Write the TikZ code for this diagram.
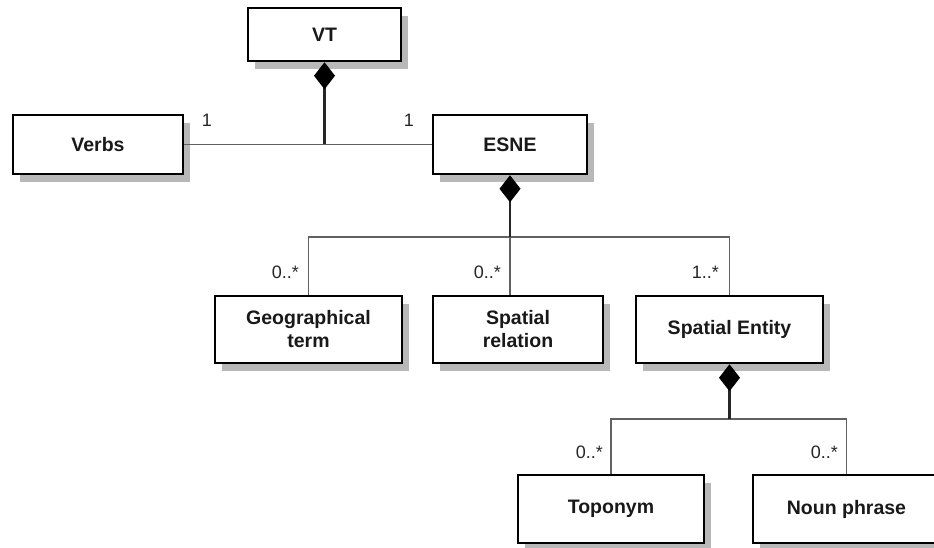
\documentclass[tikz,border=0pt]{standalone}
\usepackage{fontspec}
\setmainfont{Liberation Sans}
\usetikzlibrary{arrows.meta,shadows}

\begin{document}
\begin{tikzpicture}[x=1pt, y=-1pt,
    klasse/.style={draw, line width=2.5pt, fill=white, text=black!90,
        font=\fontsize{19.5}{23}\selectfont\bfseries, align=center,
        inner sep=0pt,
        drop shadow={shadow xshift=7pt, shadow yshift=-8pt,
            fill=black!28, opacity=1}},
    leiter/.style={draw=black!62, line width=1.9pt},
    komp/.style={draw=black!85, line width=2.6pt,
        -{Diamond[width=21pt, length=27pt, line width=0pt, fill=black, color=black]}},
    mult/.style={font=\fontsize{18}{20}\selectfont, text=black!85, inner sep=0pt}
    ]
    \useasboundingbox (0,0) rectangle (934,547);

    % Klassen
    \node[klasse, minimum width=153pt, minimum height=53pt] (vt)    at (324.5,34.5) {VT};
    \node[klasse, minimum width=170pt, minimum height=59pt] (verbs) at (98,144.5)   {Verbs};
    \node[klasse, minimum width=154pt, minimum height=59pt] (esne)  at (510,144.5)  {ESNE};

    \node[klasse, minimum width=187pt, minimum height=67pt] (geo) at (308.5,329.5) {Geographical\\term};
    \node[klasse, minimum width=170pt, minimum height=67pt] (rel) at (518,329.5)   {Spatial\\relation};
    \node[klasse, minimum width=187pt, minimum height=67pt] (ent) at (729.5,329.5) {Spatial Entity};

    \node[klasse, minimum width=186pt, minimum height=68pt] (topo) at (611,509)   {Toponym};
    \node[klasse, minimum width=187pt, minimum height=68pt] (np)   at (846.5,509) {Noun phrase};

    % Knoten
    \coordinate (k1) at (324.5,144);
    \coordinate (k2) at (510,237);
    \coordinate (k3) at (729.5,419);

    % Leiter
    \draw[leiter] (verbs) -- (esne);
    \draw[leiter] (geo.north) |- (k2) -| (ent.north);
    \draw[leiter] (k2) -- (k2 |- rel.north);
    \draw[leiter] (topo.north) |- (k3) -| (np.north);

    % Komposition
    \draw[komp] (k1) -- (vt.south);
    \draw[komp] (k2) -- (esne.south);
    \draw[komp] (k3) -- (ent.south);

    % Multiplizitaeten
    \node[mult] (m1) at (207,120) {1};
    \node[mult] (m2) at (409,120) {1};
    \node[mult, anchor=east] (m3) at (299,272) {0..*};
    \node[mult, anchor=east] (m4) at (501,272) {0..*};
    \node[mult, anchor=east] (m5) at (719,272) {1..*};
    \node[mult, anchor=east] (m6) at (603,452) {0..*};
    \node[mult, anchor=east] (m7) at (838,452) {0..*};
\end{tikzpicture}
\end{document}
